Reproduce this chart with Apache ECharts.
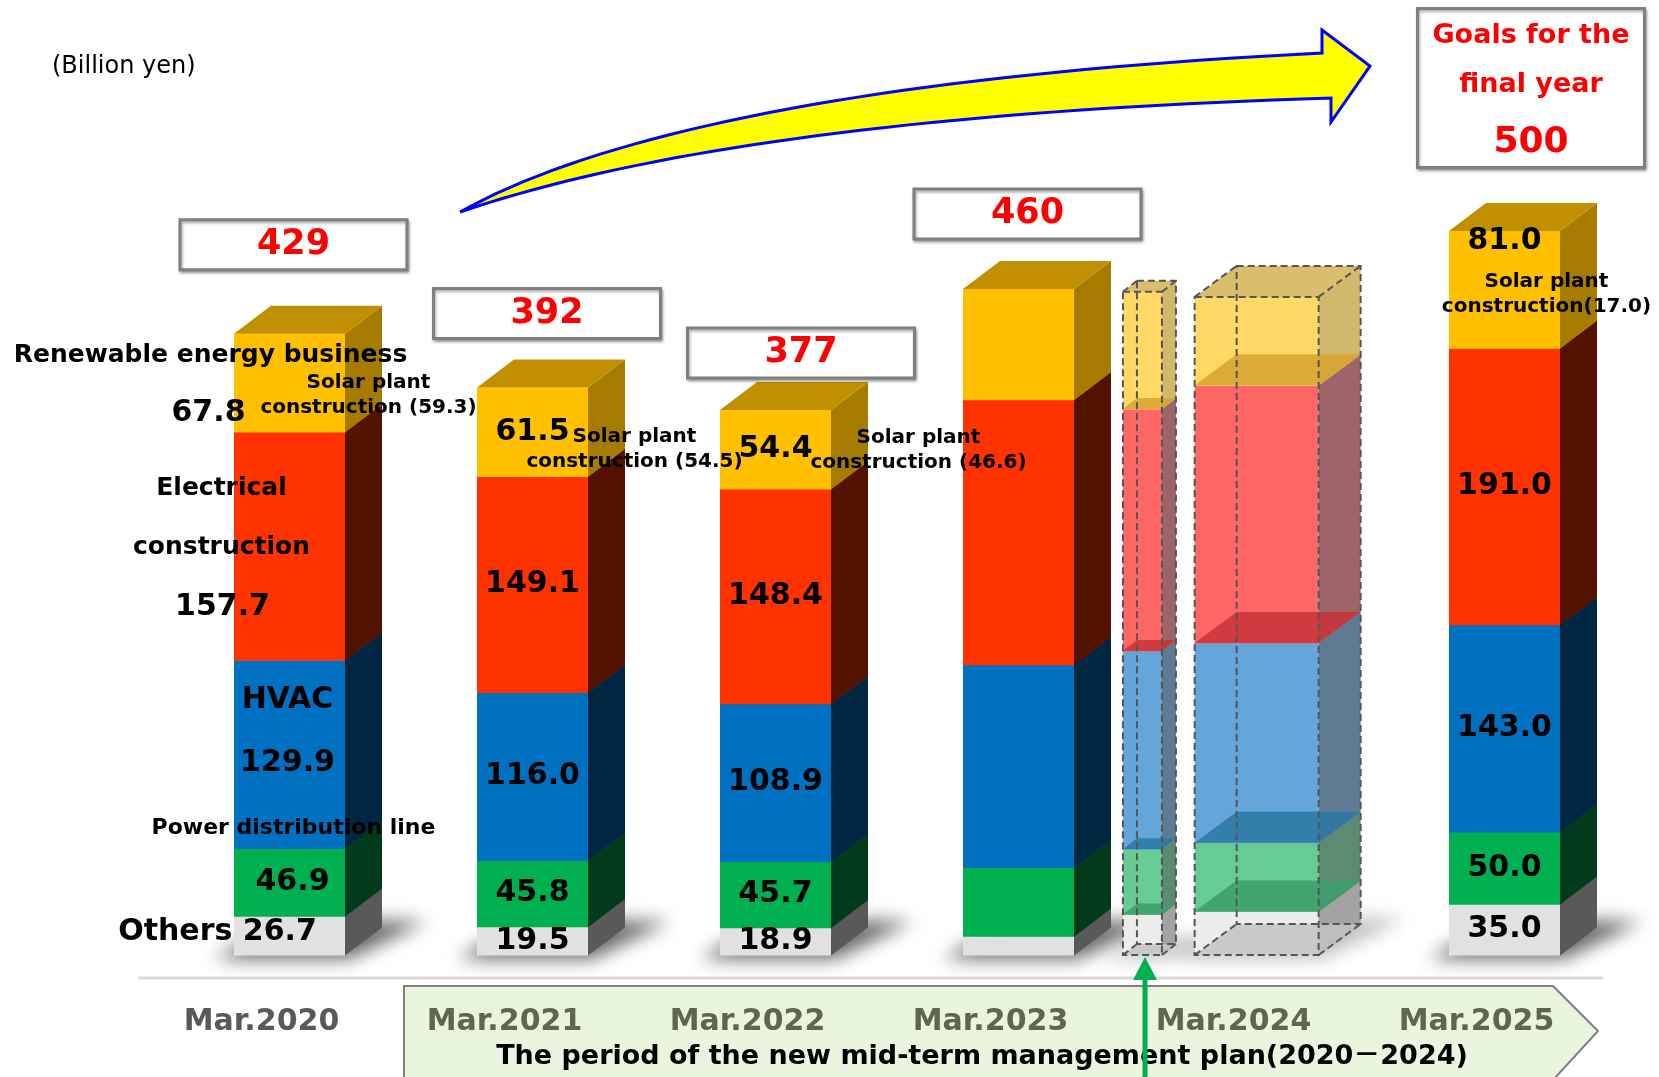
<!DOCTYPE html>
<html>
<head>
<meta charset="utf-8">
<script src="https://cdn.jsdelivr.net/npm/echarts@6/dist/echarts.min.js"></script>
<style>
html, body { margin: 0; padding: 0; background: #fff; }
#main { width: 1659px; height: 1077px; }
</style>
</head>
<body>
<div id="main"></div>
<script>
var categories = ['Mar.2020', 'Mar.2021', 'Mar.2022', 'Mar.2023', 'Mar.2024', 'Mar.2025'];

// one entry per drawn column: results 2020-2023, two outlook columns (dashed), final-year goal
var barSlot = [0, 1, 2, 3, 3, 4, 5];
var others = [26.7, 19.5, 18.9, 13.0, 28.0, 30.0, 35.0];
var powerLine = [46.9, 45.8, 45.7, 47.5, 45.0, 47.5, 50.0];
var hvac = [129.9, 116.0, 108.9, 140.0, 137.0, 138.0, 143.0];
var electrical = [157.7, 149.1, 148.4, 183.0, 167.0, 178.0, 191.0];
var renewable = [67.8, 61.5, 54.4, 76.5, 81.0, 61.0, 81.0];
var solarPlant = [59.3, 54.5, 46.6, null, null, null, 17.0];
var totals = [429, 392, 377, 460, null, null, 500];

var segments = [others, powerLine, hvac, electrical, renewable];

// layout of the pseudo-3D columns (pixels / fractions of a category band)
var frontShift = 28;
var barShift = [0, 0, 0, 0, 0.51, -0.02, 0];
var barWidth = [111, 111, 111, 111, 39, 124, 111];
var barDepth = [37, 37, 37, 37, 14, 42, 37];
var barRise = [28, 28, 28, 28, 11, 31, 28];
var dashedBar = [false, false, false, false, true, true, false];
var showValues = [false, true, true, false, false, false, true];
var topValueDy = [0, 0, 0, 0, 0, 0, -48];
var solarNote = [[79, 0], [102, 5], [143, -12], null, null, null, [42, -8]];
var totalBox = [[4, -89], [14.5, -74], [25.5, -57], [9, -75], null, null, [26.5, -143]];

var frontColors = ['#e1e1e1', '#00b050', '#0070c0', '#ff3300', '#ffc000'];
var sideColors = ['#595959', '#013b1b', '#012641', '#531100', '#a67c00'];
var topColor = '#c09000';
var ghostFront = ['#ececec', '#66cc93', '#64a6da', '#ff6666', '#ffd865'];
var ghostSide = ['#a3a3a3', '#5d8b71', '#5f7b93', '#9f6468', '#d2b86b'];
var ghostFloor = ['#c3c3c3', '#3c9e69', '#2a78a3', '#c8333b', '#d8a22f'];
var ghostTop = '#d9bf6d';

// captions written around the first column
var firstBarNotes = [
    { seg: 0, text: 'Others {v}', dx: -72, dy: -3, size: 30 },
    { seg: 1, text: '{v}', dx: 3, dy: 0, size: 30 },
    { seg: 2, text: 'HVAC', dx: -2, dy: -54, size: 30 },
    { seg: 2, text: '{v}', dx: -2, dy: 9, size: 30 },
    { seg: 2, text: 'Power distribution line', dx: 4, dy: 74, size: 22 },
    { seg: 3, text: 'Electrical', dx: -68, dy: -58, size: 25 },
    { seg: 3, text: 'construction', dx: -68, dy: 1, size: 25 },
    { seg: 3, text: '{v}', dx: -67, dy: 61, size: 30 },
    { seg: 4, text: 'Renewable energy business', dx: -79, dy: -27, size: 25 },
    { seg: 4, text: '{v}', dx: -81, dy: 30, size: 30 }
];

var FONT = '"DejaVu Sans", "Noto Sans CJK JP", sans-serif';
var OFF = 4000;

function txt(text, x, y, size, color, weight) {
    return {
        type: 'text', z2: 20, silent: true,
        style: {
            text: text, x: x, y: y, align: 'center', verticalAlign: 'middle',
            font: (weight || 'bold') + ' ' + size + 'px ' + FONT, fill: color || '#000'
        }
    };
}

function renderBar(params, api) {
    var i = params.dataIndex;
    var slot = barSlot[i];
    var band = api.size([1, 0])[0];
    var base = api.coord([slot, 0]);
    var cx = base[0] + frontShift + barShift[i] * band;
    var y0 = base[1];
    var w = barWidth[i], d = barDepth[i], r = barRise[i];
    var x0 = cx - w / 2, x1 = cx + w / 2;
    var ghost = dashedBar[i];
    var kids = [];

    // soft floor shadow: the shape sits off-canvas, only its blurred shadow lands here
    kids.push({
        type: 'polygon', silent: true, z2: -5,
        shape: { points: [[x0 - 20 - OFF, y0 + 4], [x1 + 4 - OFF, y0 + 4], [x1 + d + 45 - OFF, y0 - r - 6], [x0 + d + 10 - OFF, y0 - r - 6]] },
        style: { fill: '#000', shadowBlur: 18, shadowColor: ghost ? 'rgba(0,0,0,0.25)' : 'rgba(0,0,0,0.6)', shadowOffsetX: OFF }
    });

    var cum = 0, mids = [];
    for (var s = 0; s < segments.length; s++) {
        var v = segments[s][i];
        var yb = api.coord([slot, cum])[1];
        cum += v;
        var yt = api.coord([slot, cum])[1];
        mids.push((yb + yt) / 2);
        kids.push({
            type: 'rect', shape: { x: x0, y: yt, width: w, height: yb - yt + 0.5 },
            style: { fill: ghost ? ghostFront[s] : frontColors[s] }
        });
        kids.push({
            type: 'polygon', shape: { points: [[x1, yb + 0.5], [x1 + d, yb - r + 0.5], [x1 + d, yt - r], [x1, yt]] },
            style: { fill: ghost ? ghostSide[s] : sideColors[s] }
        });
        if (ghost) {
            kids.push({
                type: 'polygon', shape: { points: [[x0, yb], [x1, yb], [x1 + d, yb - r], [x0 + d, yb - r]] },
                style: { fill: ghostFloor[s], opacity: 0.85 }
            });
        }
    }
    var yTop = api.coord([slot, cum])[1];
    kids.push({
        type: 'polygon', shape: { points: [[x0, yTop], [x1, yTop], [x1 + d, yTop - r], [x0 + d, yTop - r]] },
        style: { fill: ghost ? ghostTop : topColor }
    });

    if (ghost) {
        var dash = { fill: null, stroke: '#555', lineWidth: 2, lineDash: [7, 4] };
        kids.push({ type: 'rect', shape: { x: x0, y: yTop, width: w, height: y0 - yTop }, style: dash, z2: 5 });
        kids.push({ type: 'rect', shape: { x: x0 + d, y: yTop - r, width: w, height: y0 - yTop }, style: dash, z2: 5 });
        [[x0, yTop], [x1, yTop], [x0, y0], [x1, y0]].forEach(function (p) {
            kids.push({ type: 'line', shape: { x1: p[0], y1: p[1], x2: p[0] + d, y2: p[1] - r }, style: dash, z2: 5 });
        });
    }

    // value labels
    if (showValues[i]) {
        segments.forEach(function (seg, s) {
            var dy = s === segments.length - 1 ? topValueDy[i] : 0;
            kids.push(txt(seg[i].toFixed(1), cx, mids[s] + dy, 30));
        });
    }
    if (i === 0) {
        firstBarNotes.forEach(function (n) {
            kids.push(txt(n.text.replace('{v}', segments[n.seg][i].toFixed(1)), cx + n.dx, mids[n.seg] + n.dy, n.size));
        });
    }
    if (solarNote[i]) {
        var sx = cx + solarNote[i][0], sy = mids[4] + solarNote[i][1];
        kids.push(txt('Solar plant', sx, sy, 20));
        kids.push(txt('construction' + (i === 6 ? '(' : ' (') + solarPlant[i].toFixed(1) + ')', sx, sy + 25, 20));
    }

    // total boxes
    if (totalBox[i]) {
        var bx = cx + totalBox[i][0], by = yTop + totalBox[i][1];
        var bh = i === 6 ? 159 : 50, bw = 227;
        kids.push({
            type: 'rect', z2: 15,
            shape: { x: bx - bw / 2, y: by - bh / 2, width: bw, height: bh },
            style: { fill: '#fff', stroke: '#7f7f7f', lineWidth: 3, shadowBlur: 3, shadowOffsetX: 1, shadowOffsetY: 2, shadowColor: 'rgba(0,0,0,0.35)' }
        });
        if (i === 6) {
            kids.push(txt('Goals for the', bx, by - 52, 27, '#ff0000'));
            kids.push(txt('final year', bx, by - 3, 27, '#ff0000'));
            kids.push(txt(String(totals[i]), bx, by + 55, 36, '#ff0000'));
        } else {
            kids.push(txt(String(totals[i]), bx, by, 35, '#ff0000'));
        }
    }

    return { type: 'group', children: kids };
}

// outline of the curved "growth" arrow, sampled from two quadratic curves
function quad(p0, c, p1, n) {
    var pts = [];
    for (var k = 0; k <= n; k++) {
        var t = k / n, a = (1 - t) * (1 - t), b = 2 * t * (1 - t), e = t * t;
        pts.push([a * p0[0] + b * c[0] + e * p1[0], a * p0[1] + b * c[1] + e * p1[1]]);
    }
    return pts;
}
var arrowPts = quad([460, 212], [688, 85], [1322, 53], 40)
    .concat([[1322, 30], [1370, 66], [1331, 122]])
    .concat(quad([1331, 98], [741, 116], [460, 212], 40));

var chart = echarts.init(document.getElementById('main'));
chart.setOption({
    animation: false,
    backgroundColor: '#fff',
    grid: { left: 140, right: 61, top: 231, bottom: 122, outerBoundsMode: 'none' },
    xAxis: {
        type: 'category',
        data: categories,
        axisLine: { show: false },
        axisTick: { show: false },
        axisLabel: {
            margin: 52,
            fontFamily: 'DejaVu Sans',
            fontWeight: 'bold',
            fontSize: 30,
            color: function (value, index) { return index === 0 ? '#595959' : '#5f6650'; }
        }
    },
    yAxis: { type: 'value', min: 0, max: 500, show: false, splitLine: { show: false } },
    series: [{
        type: 'custom',
        renderItem: renderBar,
        encode: { x: 0, y: 1 },
        data: barSlot.map(function (s, i) {
            return [s, segments.reduce(function (a, seg) { return a + seg[i]; }, 0)];
        })
    }],
    graphic: [
        {
            type: 'text', x: 52, y: 67,
            style: { text: '(Billion yen)', font: '24px ' + FONT, fill: '#000', verticalAlign: 'middle' }
        },
        {
            type: 'polygon',
            shape: { points: arrowPts },
            style: { fill: '#ffff00', stroke: '#0000ff', lineWidth: 3, lineJoin: 'miter' }
        },
        {
            type: 'line', shape: { x1: 138, y1: 978, x2: 1603, y2: 978 },
            style: { stroke: '#d9d9d9', lineWidth: 3 }
        },
        {
            type: 'polygon', z: -10,
            shape: { points: [[404, 986], [1553, 986], [1598, 1031], [1553, 1080], [404, 1080]] },
            style: { fill: '#eaf5de', stroke: '#7f7f7f', lineWidth: 2 }
        },
        {
            type: 'text', x: 982, y: 1057, z: 5,
            style: { text: 'The period of the new mid-term management plan(2020－2024)', font: 'bold 27px ' + FONT, fill: '#000', align: 'center', verticalAlign: 'middle' }
        },
        {
            type: 'line', z: 10, shape: { x1: 1145, y1: 1080, x2: 1145, y2: 975 },
            style: { stroke: '#00b050', lineWidth: 5 }
        },
        {
            type: 'polygon', z: 10,
            shape: { points: [[1133, 980], [1145, 957], [1157, 980]] },
            style: { fill: '#00b050' }
        }
    ]
});
</script>
</body>
</html>
